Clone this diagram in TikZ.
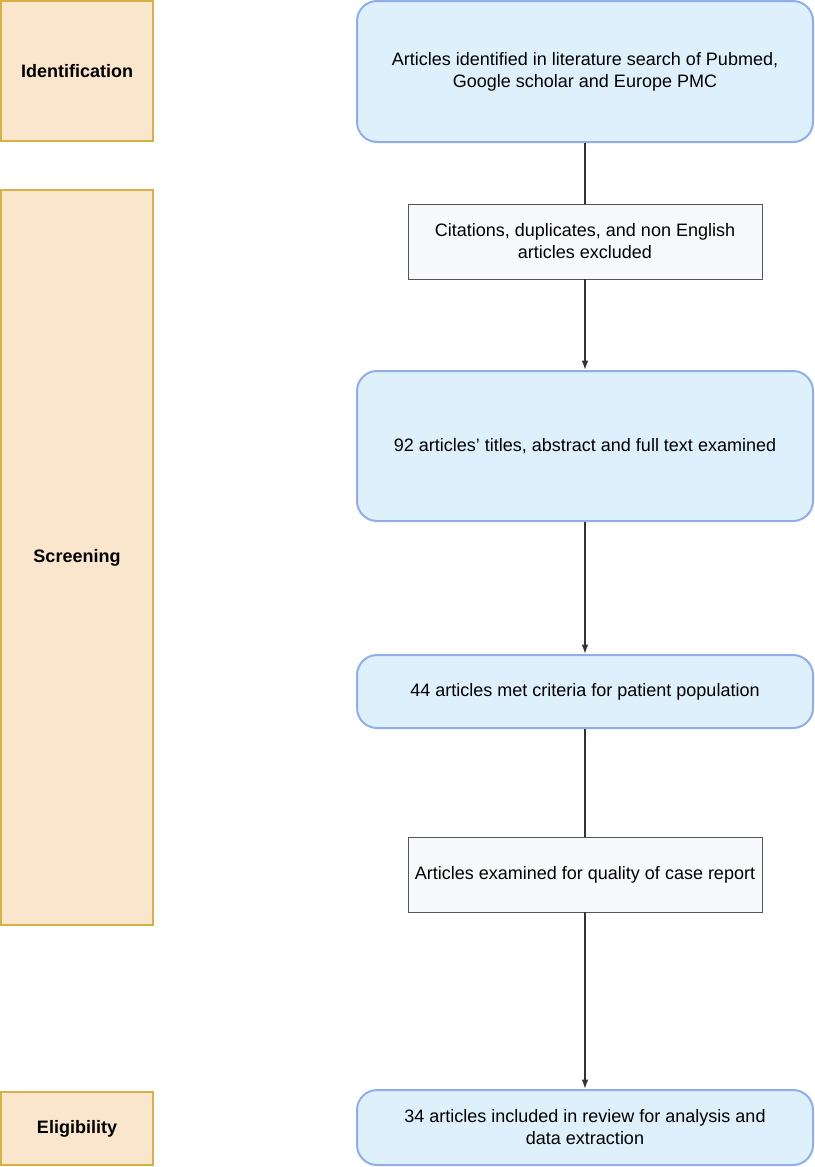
\documentclass[tikz,border=0pt]{standalone}
\usepackage{fontspec}
\setmainfont{Liberation Sans}
\usetikzlibrary{arrows.meta}
\definecolor{stagefill}{RGB}{250,230,205}
\definecolor{stagedraw}{RGB}{214,178,70}
\definecolor{stepfill}{RGB}{222,240,252}
\definecolor{stepdraw}{RGB}{143,174,235}
\definecolor{notefill}{RGB}{247,249,252}
\definecolor{notedraw}{RGB}{85,85,85}
\definecolor{linkcol}{RGB}{51,51,51}
\begin{document}
\begin{tikzpicture}[x=0.75pt,y=0.75pt,yscale=-1,xscale=1,
  stagebox/.style={draw=stagedraw,fill=stagefill,line width=1.1pt,minimum width=114pt,
    font=\fontsize{13.5}{16.5}\selectfont\bfseries,inner sep=0.75pt},
  stepbox/.style={draw=stepdraw,fill=stepfill,line width=1.5pt,rounded corners=15pt,
    minimum width=342pt,align=center,font=\fontsize{13.5}{16.5}\selectfont,inner sep=0.75pt},
  notebox/.style={draw=notedraw,fill=notefill,line width=0.6pt,minimum width=265.5pt,
    minimum height=56.25pt,align=center,font=\fontsize{13.5}{16.5}\selectfont,inner sep=0.75pt},
  link/.style={draw=linkcol,line width=1.1pt},
  linkarr/.style={link,-{Latex[length=7pt,width=5pt]}}]
\useasboundingbox (0,0) rectangle (814,1167);

%Shape: Rectangle [stages]
\draw (77,71) node [stagebox,minimum height=105pt] (ident) {Identification};
\draw (77,557.5) node [stagebox,minimum height=551.25pt] (screen) {Screening};
\draw (77,1128.5) node [stagebox,minimum height=54.75pt] (elig) {Eligibility};

%Rounded Rect [steps]
\draw (585,71.5) node [stepbox,minimum height=105.75pt] (found) {Articles identified in literature search of Pubmed,\\Google scholar and Europe PMC};
\draw (585,446) node [stepbox,minimum height=112.5pt] (titles) {92 articles’ titles, abstract and full text examined};
\draw (585,691.5) node [stepbox,minimum height=54.75pt] (met) {44 articles met criteria for patient population};
\draw (585,1127.5) node [stepbox,minimum height=56.25pt] (incl) {34 articles included in review for analysis and\\data extraction};

%Shape: Rectangle [side notes]
\draw (585,241.5) node [notebox] (excl) {Citations, duplicates, and non English\\articles excluded};
\draw (585,874.5) node [notebox] (quality) {Articles examined for quality of case report};

%Straight Lines
\draw [link] (found) -- (excl);
\draw [linkarr] (excl) -- (titles);
\draw [linkarr] (titles) -- (met);
\draw [link] (met) -- (quality);
\draw [linkarr] (quality) -- (incl);

\end{tikzpicture}
\end{document}
